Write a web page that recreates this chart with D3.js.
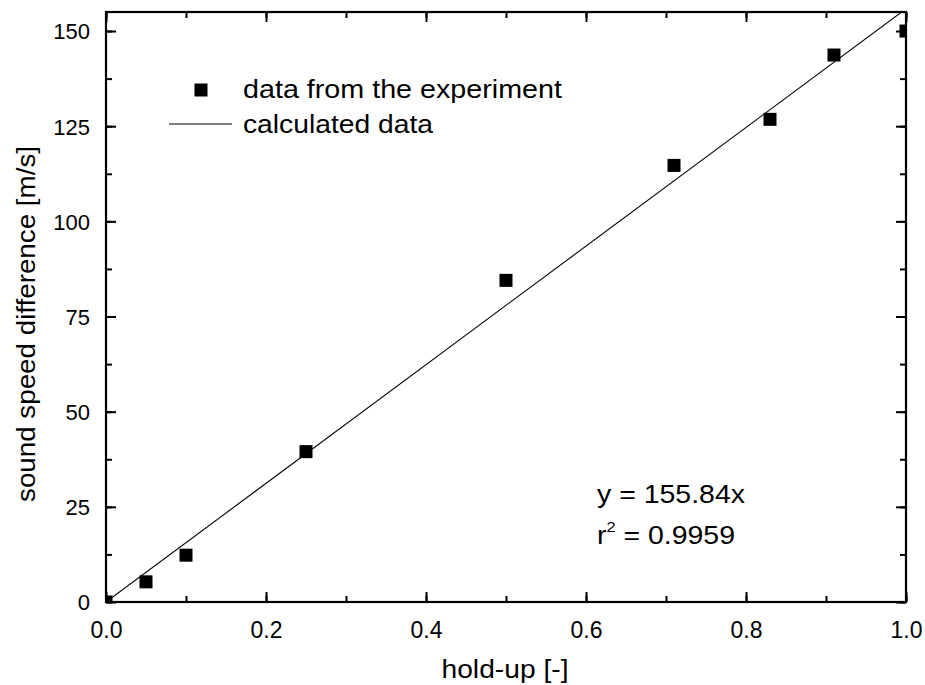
<!DOCTYPE html>
<html><head><meta charset="utf-8">
<script src="https://cdn.jsdelivr.net/npm/d3@7"></script>
<style>
body{margin:0;background:#fff;}
text{font-family:"Liberation Sans",Arial,sans-serif;fill:#000;}
</style></head>
<body>
<svg id="c" width="925" height="685"></svg>
<script>
const holdUp = [0, 0.05, 0.1, 0.25, 0.5, 0.71, 0.83, 0.91, 1.0];
const speedDiff = [0, 5.3, 12.3, 39.5, 84.5, 114.7, 126.8, 143.7, 150];
const fitSlope = 155.84;
const fitR2 = "0.9959";
const xTicks = [0, 0.2, 0.4, 0.6, 0.8, 1.0];
const yTicks = [0, 25, 50, 75, 100, 125, 150];
const legendLabels = ["data from the experiment", "calculated data"];

const svg = d3.select("#c");
const L = 106, R = 906, T = 12, B = 602;
const x = d3.scaleLinear().domain([0, 1]).range([L, R]);
const y = d3.scaleLinear().domain([0, 155]).range([B, T]);

function fit(sel, w) {
  sel.attr("textLength", w).attr("lengthAdjust", "spacingAndGlyphs");
  return sel;
}

svg.append("defs").append("clipPath").attr("id", "clip")
  .append("rect").attr("x", L).attr("y", T).attr("width", R - L).attr("height", B - T);

// fit line
const line = d3.line().x(d => x(d[0])).y(d => y(d[1]));
svg.append("path").attr("clip-path", "url(#clip)")
  .datum([[0, 0], [1, fitSlope]])
  .attr("d", line).attr("fill", "none").attr("stroke", "#000").attr("stroke-width", 1.1);

// points
const S = 13;
svg.append("g").attr("clip-path", "url(#clip)").selectAll("rect")
  .data(holdUp.map((v, i) => [v, speedDiff[i]])).join("rect")
  .attr("x", d => x(d[0]) - S / 2).attr("y", d => y(d[1]) - S / 2)
  .attr("width", S).attr("height", S).attr("fill", "#000");

// axes with inward ticks
const minorX = d3.range(0, 1.0001, 0.1);
const minorY = d3.range(0, 155, 12.5);
const gB = svg.append("g").attr("transform", `translate(0,${B})`)
  .call(d3.axisBottom(x).tickValues(xTicks).tickSizeInner(-10).tickSizeOuter(0).tickFormat(d3.format(".1f")).tickPadding(20));
svg.append("g").attr("transform", `translate(0,${B})`)
  .call(d3.axisBottom(x).tickValues(minorX).tickSizeInner(-6).tickSizeOuter(0).tickFormat(""));
svg.append("g").attr("transform", `translate(0,${T})`)
  .call(d3.axisTop(x).tickValues(xTicks).tickSizeInner(-10).tickSizeOuter(0).tickFormat(""));
svg.append("g").attr("transform", `translate(0,${T})`)
  .call(d3.axisTop(x).tickValues(minorX).tickSizeInner(-6).tickSizeOuter(0).tickFormat(""));
const gL = svg.append("g").attr("transform", `translate(${L},0)`)
  .call(d3.axisLeft(y).tickValues(yTicks).tickSizeInner(-10).tickSizeOuter(0).tickPadding(16));
svg.append("g").attr("transform", `translate(${L},0)`)
  .call(d3.axisLeft(y).tickValues(minorY).tickSizeInner(-6).tickSizeOuter(0).tickFormat(""));
svg.append("g").attr("transform", `translate(${R},0)`)
  .call(d3.axisRight(y).tickValues(yTicks).tickSizeInner(-10).tickSizeOuter(0).tickFormat(""));
svg.append("g").attr("transform", `translate(${R},0)`)
  .call(d3.axisRight(y).tickValues(minorY).tickSizeInner(-6).tickSizeOuter(0).tickFormat(""));

svg.selectAll(".domain").remove();
svg.selectAll(".tick line").attr("stroke", "#000").attr("stroke-width", 2);
svg.selectAll(".tick text").attr("font-size", 23).attr("font-family", "Liberation Sans, Arial, sans-serif").attr("fill", "#000");
gB.selectAll(".tick text").attr("dy", "0.71em");
gL.selectAll(".tick text").attr("font-size", 22).attr("dy", "0.36em");

// frame
svg.append("rect").attr("x", L).attr("y", T).attr("width", R - L).attr("height", B - T)
  .attr("fill", "none").attr("stroke", "#000").attr("stroke-width", 2.2);

// axis titles
svg.append("text").attr("x", 505).attr("y", 678).attr("text-anchor", "middle")
  .attr("font-size", 25).text("hold-up [-]").call(fit, 127);
svg.append("text").attr("transform", `translate(35,324) rotate(-90)`)
  .attr("text-anchor", "middle").attr("font-size", 25).text("sound speed difference [m/s]").call(fit, 356);

// legend
svg.append("rect").attr("x", 201 - S / 2).attr("y", 90 - S / 2).attr("width", S).attr("height", S).attr("fill", "#000");
svg.append("text").attr("x", 243).attr("y", 98).attr("font-size", 25).text(legendLabels[0]).call(fit, 319);
svg.append("line").attr("x1", 169).attr("x2", 232).attr("y1", 124).attr("y2", 124)
  .attr("stroke", "#000").attr("stroke-width", 1.1);
svg.append("text").attr("x", 243).attr("y", 133).attr("font-size", 25).text(legendLabels[1]).call(fit, 190);

// equation
svg.append("text").attr("x", 597).attr("y", 503).attr("font-size", 26).text(`y = ${fitSlope}x`).call(fit, 148);
const t2 = svg.append("text").attr("x", 597).attr("y", 544).attr("font-size", 26);
t2.append("tspan").text("r");
t2.append("tspan").attr("font-size", 15).attr("dy", -12).text("2");
t2.append("tspan").attr("dy", 12).text(` = ${fitR2}`);
t2.call(fit, 138);
</script>
</body></html>
